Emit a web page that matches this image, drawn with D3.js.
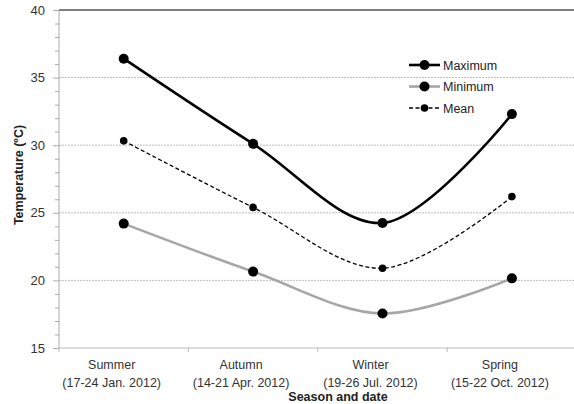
<!DOCTYPE html>
<html><head><meta charset="utf-8">
<script src="https://cdn.jsdelivr.net/npm/d3@7"></script>
<style>body{margin:0;background:#fff}svg{display:block}</style>
</head><body><svg id="c" width="574" height="404"></svg>
<script>
const categories = ["Summer", "Autumn", "Winter", "Spring"];
const dates = ["(17-24 Jan. 2012)", "(14-21 Apr. 2012)", "(19-26 Jul. 2012)", "(15-22 Oct. 2012)"];
const maximum = [36.4, 30.1, 24.25, 32.3];
const minimum = [24.2, 20.65, 17.55, 20.15];
const mean = [30.32, 25.4, 20.9, 26.2];
const yTicks = [15, 20, 25, 30, 35, 40];
const seriesNames = ["Maximum", "Minimum", "Mean"];

const svg = d3.select("#c");
const font = "'Liberation Sans', Arial, sans-serif";
const L = 59, R = 576.6, T = 10, B = 348;
const y = d3.scaleLinear().domain([15, 40]).range([B, T]);
const xb = d3.scaleBand().domain(categories).range([L, R]);
const x = c => xb(c) + xb.bandwidth() / 2;

// gridlines
svg.append("g").selectAll("line").data(yTicks.filter(v => v > 15 && v < 40)).join("line")
  .attr("x1", L).attr("x2", R).attr("y1", d => y(d)).attr("y2", d => y(d))
  .attr("stroke", "#bdbdbd").attr("stroke-width", 1).attr("stroke-dasharray", "2,1");
// top border
svg.append("line").attr("x1", L).attr("x2", R).attr("y1", y(40)).attr("y2", y(40))
  .attr("stroke", "#555").attr("stroke-width", 1.5);
// bottom axis
svg.append("line").attr("x1", L).attr("x2", R).attr("y1", y(15)).attr("y2", y(15))
  .attr("stroke", "#bbb").attr("stroke-width", 1);
// left axis
svg.append("line").attr("x1", L).attr("x2", L).attr("y1", T).attr("y2", B)
  .attr("stroke", "#aaa").attr("stroke-width", 1);
// minor ticks
svg.append("g").selectAll("line").data(d3.range(15, 41)).join("line")
  .attr("x1", d => d % 5 === 0 ? L - 6 : L - 4).attr("x2", L)
  .attr("y1", d => y(d) + 0.5).attr("y2", d => y(d) + 0.5)
  .attr("stroke", "#aaa").attr("stroke-width", 1);
// y tick labels
svg.append("g").selectAll("text").data(yTicks).join("text")
  .attr("x", 45).attr("y", d => y(d) + 4.5).attr("text-anchor", "end")
  .attr("font-family", font).attr("font-size", 13).attr("fill", "#333").text(d => d);
// x ticks
svg.append("g").selectAll("line").data(categories).join("line")
  .attr("x1", d => xb(d)).attr("x2", d => xb(d)).attr("y1", B).attr("y2", B + 4)
  .attr("stroke", "#bbb");
// x labels
const xl = svg.append("g").selectAll("text").data(categories).join("text")
  .attr("text-anchor", "middle").attr("font-family", font).attr("font-size", 12.5).attr("fill", "#333");
xl.append("tspan").attr("x", d => x(d) - 12).attr("y", 369).text(d => d);
xl.append("tspan").attr("x", d => x(d) - 12).attr("y", 387).text((d, i) => dates[i]);

svg.append("text").attr("x", 338).attr("y", 401).attr("text-anchor", "middle")
  .attr("font-family", font).attr("font-size", 12.5).attr("font-weight", "bold").attr("fill", "#222")
  .text("Season and date");
svg.append("text").attr("transform", "translate(23,175) rotate(-90)").attr("text-anchor", "middle")
  .attr("font-family", font).attr("font-size", 12.5).attr("font-weight", "bold").attr("fill", "#222")
  .text("Temperature (ºC)");

const line = d3.line().x((d, i) => x(categories[i])).y(d => y(d)).curve(d3.curveCatmullRom.alpha(0.5));
const styles = [
  {data: maximum, stroke: "#000", w: 2.6, dash: null, r: 5},
  {data: minimum, stroke: "#a6a6a6", w: 2.6, dash: null, r: 5},
  {data: mean, stroke: "#000", w: 1.3, dash: "4,2.5", r: 3.8}
];
styles.forEach(s => {
  svg.append("path").attr("d", line(s.data)).attr("fill", "none")
    .attr("stroke", s.stroke).attr("stroke-width", s.w).attr("stroke-dasharray", s.dash);
  svg.append("g").selectAll("circle").data(s.data).join("circle")
    .attr("cx", (d, i) => x(categories[i])).attr("cy", d => y(d)).attr("r", s.r).attr("fill", "#000");
});

// legend
const lg = svg.append("g");
styles.forEach((s, i) => {
  const ly = 65 + i * 21.5;
  lg.append("line").attr("x1", 409).attr("x2", 440).attr("y1", ly).attr("y2", ly)
    .attr("stroke", s.stroke).attr("stroke-width", s.w).attr("stroke-dasharray", s.dash);
  lg.append("circle").attr("cx", 424.5).attr("cy", ly).attr("r", s.r).attr("fill", "#000");
  lg.append("text").attr("x", 443).attr("y", ly + 4.5).attr("font-family", font).attr("font-size", 12.5)
    .attr("fill", "#222").text(seriesNames[i]);
});
</script></body></html>
